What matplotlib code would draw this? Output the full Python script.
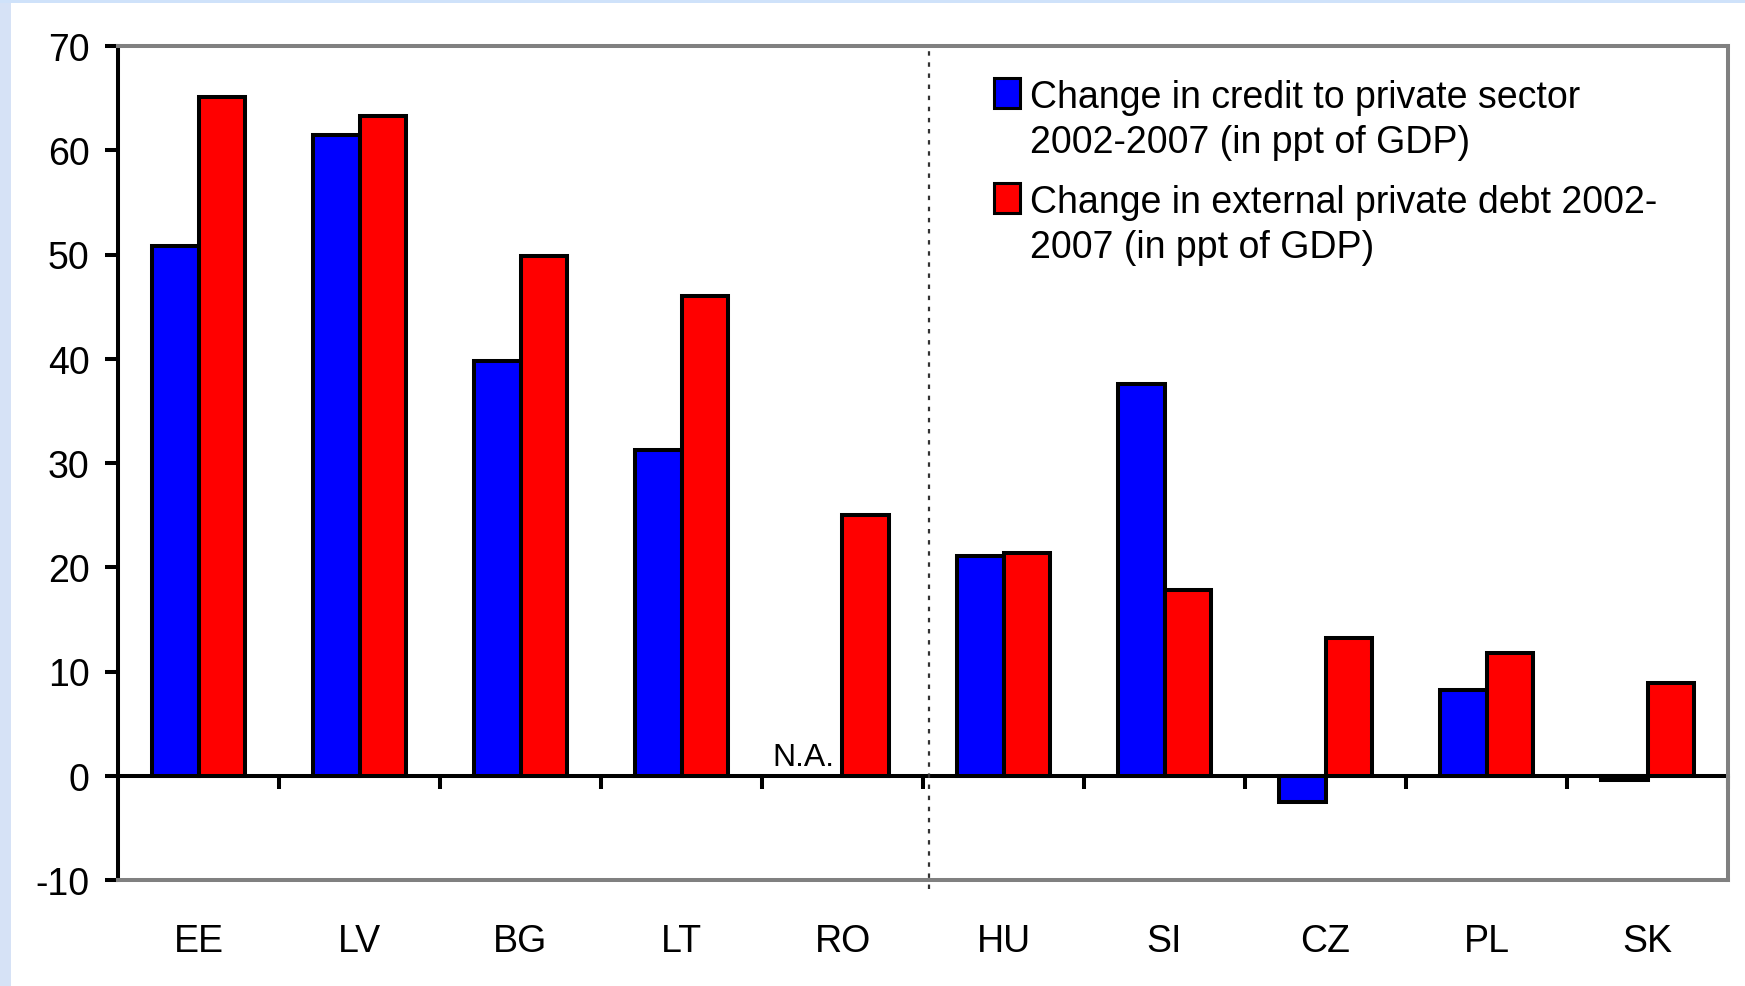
import numpy as np
import matplotlib
matplotlib.use("Agg")
import matplotlib.pyplot as plt
from matplotlib.patches import Rectangle

# ---- data ----
categories = ["EE", "LV", "BG", "LT", "RO", "HU", "SI", "CZ", "PL", "SK"]
credit_change = [50.8, 61.5, 39.8, 31.2, np.nan, 21.1, 37.6, -2.5, 8.2, -0.4]
ext_debt_change = [65.1, 63.3, 49.9, 46.0, 25.0, 21.4, 17.8, 13.2, 11.8, 8.9]
credit_label = ["Change in credit to private sector", "2002-2007 (in ppt of GDP)"]
debt_label = ["Change in external private debt 2002-", "2007 (in ppt of GDP)"]
na_label = "N.A."
yticks = list(range(-10, 71, 10))

W, H = 1745, 987
plt.rcParams['font.family'] = ['Liberation Sans', 'DejaVu Sans']
fig = plt.figure(figsize=(W / 100, H / 100), dpi=100, facecolor="white")

# light blue border strips of the original slide
fig.add_artist(Rectangle((0, 0), 11 / W, 1, transform=fig.transFigure,
                         facecolor="#d6e2f6", edgecolor="none", zorder=0))
fig.add_artist(Rectangle((0, 1 - 4 / H), 1, 4 / H, transform=fig.transFigure,
                         facecolor="#cfe2fa", edgecolor="none", zorder=0))

ax = fig.add_axes([118 / W, 1 - 881 / H, (1728 - 118) / W, (881 - 47) / H])
ax.set_facecolor("white")

x = np.arange(len(categories))
bw = 0.29
lw = 2.9
blue = np.array(credit_change, dtype=float)
mask = ~np.isnan(blue)
ax.bar(x[mask] - bw / 2, blue[mask], width=bw, color="#0000FF",
       edgecolor="black", linewidth=lw, zorder=2)
ax.bar(x + bw / 2, ext_debt_change, width=bw, color="#FF0000",
       edgecolor="black", linewidth=lw, zorder=2)

ax.set_xlim(-0.5, len(categories) - 0.5)
ax.set_ylim(-10, 70)
ax.set_yticks(yticks)
ax.set_yticklabels([str(t) for t in yticks], fontsize=27)
ax.set_xticks(x)
ax.set_xticklabels(categories, fontsize=27)
ax.tick_params(axis="x", length=0, pad=31)
ax.tick_params(axis="y", direction="out", length=9.4, width=lw, pad=11, color="black")

for s in ["top", "right", "bottom"]:
    ax.spines[s].set_color("#808080")
    ax.spines[s].set_linewidth(lw)
ax.spines["left"].set_color("black")
ax.spines["left"].set_linewidth(lw)

# zero line with category-boundary ticks
zero_frac = (0 - (-10)) / 80
sec = ax.secondary_xaxis(zero_frac)
sec.set_xticks(np.arange(0.5, len(categories), 1.0))
sec.set_xticklabels([])
sec.tick_params(axis="x", direction="out", length=9.4, width=lw, color="black")
sec.spines["bottom"].set_color("black")
sec.spines["bottom"].set_linewidth(lw)

# dashed divider between RO and HU
ax.axvline(4.54, ymin=-0.011, ymax=1, clip_on=False, color="#333333",
           lw=1.6, linestyle=(0, (2, 3)), zorder=1)

# N.A. marker
ax.text(4 - bw / 2 - 0.1, 0.35, na_label, ha="center", va="bottom", fontsize=23)

# legend (drawn manually to keep the original layout)
def px2fig(px, py):
    return px / W, 1 - py / H

for color, top_px, lines, baselines in [
    ("#0000FF", 79, credit_label, [108, 153]),
    ("#FF0000", 184, debt_label, [213, 258]),
]:
    x0, y1 = px2fig(994, top_px)
    fig.add_artist(Rectangle((x0, y1 - 30 / H), 26 / W, 30 / H,
                             transform=fig.transFigure, facecolor=color,
                             edgecolor="black", linewidth=2.2, zorder=5))
    for line, bl in zip(lines, baselines):
        tx, ty = px2fig(1030, bl)
        fig.text(tx, ty, line, ha="left", va="baseline", fontsize=27, zorder=5)

fig.savefig("out.png", dpi=100, facecolor=fig.get_facecolor())
